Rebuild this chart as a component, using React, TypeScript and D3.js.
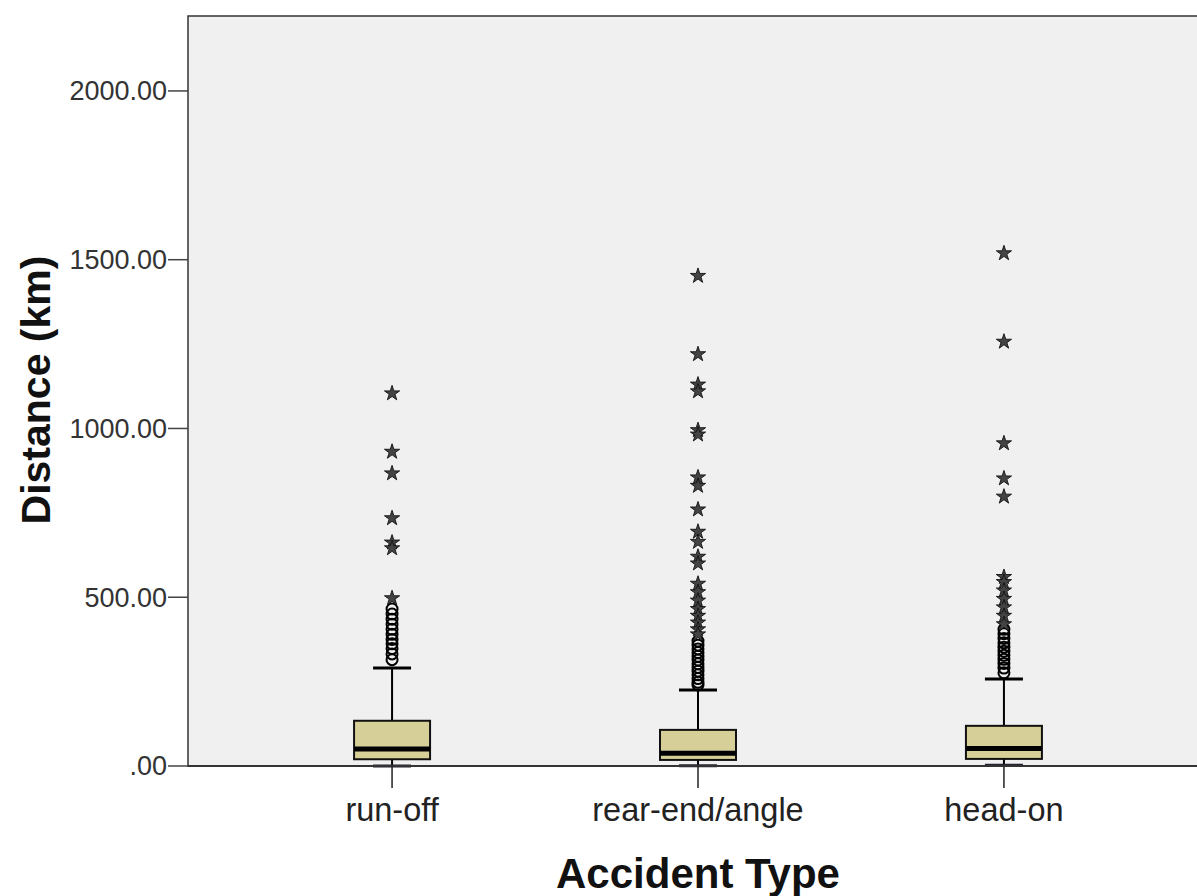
import React from "react";
import * as d3 from "d3";

const categories = ["run-off", "rear-end/angle", "head-on"];
const q1 = [20, 18, 21];
const medians = [50, 38, 52];
const q3 = [134, 107, 119];
const whiskerLow = [0, 1, 2];
const whiskerHigh = [290, 225, 258];
const mildOutliers = [
  [465, 450, 435, 420, 405, 390, 375, 362, 348, 332, 315],
  [370, 358, 347, 336, 325, 314, 303, 292, 281, 270, 259, 248, 240],
  [405, 392, 378, 365, 352, 340, 328, 316, 304, 290, 276],
];
const extremeOutliers = [
  [1104, 931, 867, 734, 662, 645, 497],
  [1452, 1220, 1130, 1110, 995, 982, 855, 830, 760, 694, 664, 620, 600, 540, 515, 490, 465, 445, 425, 405, 390],
  [1519, 1257, 956, 852, 798, 560, 545, 520, 495, 470, 445, 420],
];
const yTicks = [0, 500, 1000, 1500, 2000];
const yMax = 2222;

const W = 1197;
const H = 896;
const left = 188;
const right = 1208;
const top = 16;
const bottom = 766;

export default function App() {
  const x = d3.scalePoint<string>().domain(categories).range([left, right]).padding(0.667);
  const y = d3.scaleLinear().domain([0, yMax]).range([bottom, top]);
  const star = d3.symbol().type(d3.symbolStar).size(72)() as string;
  const fmt = (v: number) => (v === 0 ? ".00" : d3.format(".2f")(v));
  const boxW = 76;
  const capW = 38;
  const font = "'Liberation Sans', Arial, sans-serif";

  return (
    <svg width={W} height={H} style={{ position: "absolute", left: 0, top: 0, background: "#fff" }}>
      <rect x={left} y={top} width={right - left} height={bottom - top} fill="#f0f0f0" stroke="#333" strokeWidth={1.5} />
      {/* y ticks */}
      {yTicks.map((t) => (
        <g key={t}>
          <line x1={left - 20} x2={left} y1={y(t)} y2={y(t)} stroke="#444" strokeWidth={1.5} />
          <text x={left - 21} y={y(t)} dy="0.35em" textAnchor="end" fontFamily={font} fontSize={27} fill="#333">
            {fmt(t)}
          </text>
        </g>
      ))}
      {/* boxes */}
      {categories.map((c, i) => {
        const cx = x(c)!;
        return (
          <g key={c}>
            <line x1={cx} x2={cx} y1={y(q3[i])} y2={y(whiskerHigh[i])} stroke="#000" strokeWidth={2} />
            <line x1={cx} x2={cx} y1={y(q1[i])} y2={y(whiskerLow[i])} stroke="#000" strokeWidth={2} />
            <line x1={cx - capW / 2} x2={cx + capW / 2} y1={y(whiskerHigh[i])} y2={y(whiskerHigh[i])} stroke="#000" strokeWidth={3} />
            <line x1={cx - capW / 2} x2={cx + capW / 2} y1={y(whiskerLow[i])} y2={y(whiskerLow[i])} stroke="#223" strokeWidth={3} />
            <rect x={cx - boxW / 2} y={y(q3[i])} width={boxW} height={y(q1[i]) - y(q3[i])} fill="#d6cf98" stroke="#111" strokeWidth={2} />
            <line x1={cx - boxW / 2} x2={cx + boxW / 2} y1={y(medians[i])} y2={y(medians[i])} stroke="#000" strokeWidth={5} />
            {mildOutliers[i].map((v, j) => (
              <circle key={"m" + j} cx={cx} cy={y(v)} r={5.5} fill="none" stroke="#000" strokeWidth={2} />
            ))}
            {extremeOutliers[i].map((v, j) => (
              <path key={"e" + j} d={star} transform={`translate(${cx},${y(v)})`} fill="#444" stroke="#111" strokeWidth={0.9} />
            ))}
          </g>
        );
      })}
      {/* x axis */}
      <line x1={left} x2={right} y1={bottom} y2={bottom} stroke="#333" strokeWidth={2} />
      {categories.map((c) => (
        <g key={c}>
          <line x1={x(c)!} x2={x(c)!} y1={bottom} y2={bottom + 22} stroke="#222" strokeWidth={1.5} />
          <text x={x(c)!} y={bottom + 55} textAnchor="middle" fontFamily={font} fontSize={32.5} fill="#222">
            {c}
          </text>
        </g>
      ))}
      <text x={(left + right) / 2} y={888} textAnchor="middle" fontFamily={font} fontSize={42} fontWeight="bold" fill="#111">
        Accident Type
      </text>
      <text transform={`translate(50, ${(top + bottom) / 2 - 1}) rotate(-90)`} textAnchor="middle" fontFamily={font} fontSize={41} fontWeight="bold" fill="#111">
        Distance (km)
      </text>
    </svg>
  );
}
